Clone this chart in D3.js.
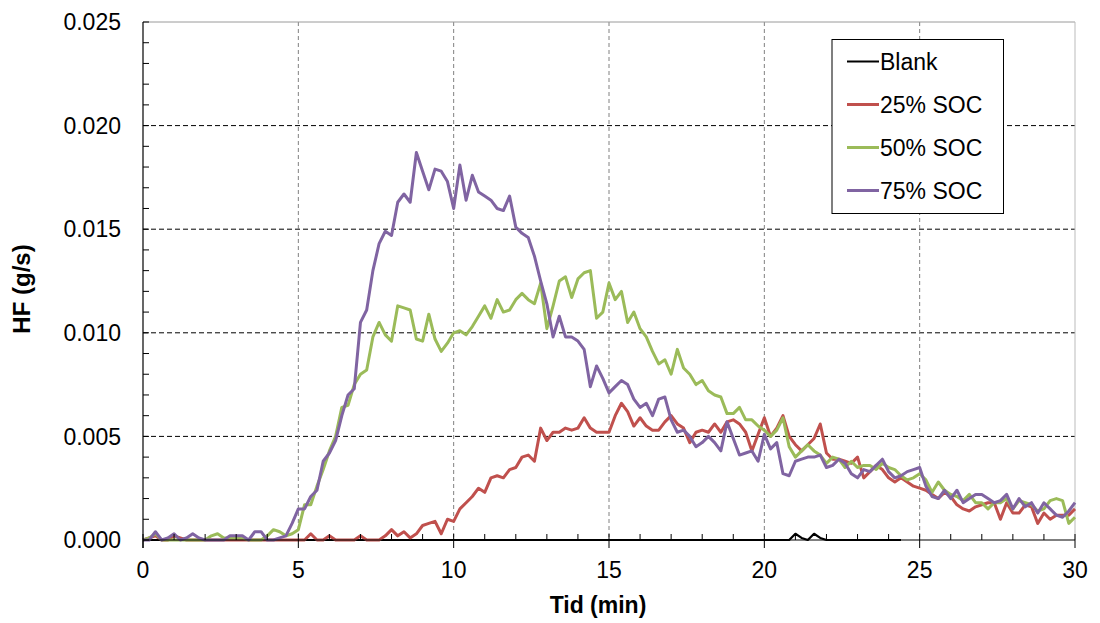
<!DOCTYPE html>
<html><head><meta charset="utf-8">
<script src="https://cdn.jsdelivr.net/npm/d3@7"></script>
<style>body{margin:0;background:#fff} svg{display:block} text{font-family:"Liberation Sans",Arial,sans-serif;fill:#000}</style>
</head><body><svg id="c" width="1100" height="623"></svg>
<script>
const seriesNames = ["Blank", "25% SOC", "50% SOC", "75% SOC"];
const seriesColors = ["#000000", "#C0504D", "#9BBB59", "#8064A2"];
const xTicks = [0, 5, 10, 15, 20, 25, 30];
const yTicks = [0, 0.005, 0.010, 0.015, 0.020, 0.025];
const xLabel = "Tid (min)";
const yLabel = "HF (g/s)";
const timeStep = 0.2; // sampling interval (min)

const blank = [
0,0,0,0,0,0,0,0,0,0, 0,0,0,0,0,0,0,0,0,0, 0,0,0,0,0,0,0,0,0,0, 0,0,0,0,0,0,0,0,0,0,
0,0,0,0,0,0,0,0,0,0, 0,0,0,0,0,0,0,0,0,0, 0,0,0,0,0,0,0,0,0,0, 0,0,0,0,0,0,0,0,0,0,
0,0,0,0,0,0,0,0,0,0, 0,0,0,0,0,0,0,0,0,0, 0,0,0,0,0,0.0003,0.0001,0,0.0003,0.0001,
0,0,0,0,0,0,0,0,0,0, 0,0,0
];
const soc25 = [
0,0.0001,0.0002,0,0,0.0002,0.0001,0,0,0,
0,0,0,0,0,0,0,0,0,0,
0,0,0,0,0,0,0,0.0003,0,0,
0.0002,0,0,0,0,0.0002,0,0,0,0.0002,
0.0005,0.0002,0.0004,0.0001,0.0003,0.0007,0.0008,0.0009,0.0003,0.0010,
0.0009,0.0015,0.0018,0.0021,0.0025,0.0023,0.0030,0.0031,0.0030,0.0034,
0.0035,0.0040,0.0041,0.0038,0.0054,0.0048,0.0052,0.0052,0.0054,0.0053,
0.0054,0.0059,0.0054,0.0052,0.0052,0.0052,0.0060,0.0066,0.0062,0.0055,
0.0059,0.0055,0.0053,0.0053,0.0057,0.0060,0.0056,0.0054,0.0047,0.0052,
0.0053,0.0052,0.0056,0.0052,0.0057,0.0058,0.0056,0.0052,0.0043,0.0051,
0.0059,0.0050,0.0054,0.0060,0.0050,0.0046,0.0043,0.0046,0.0049,0.0056,
0.0042,0.0039,0.0039,0.0038,0.0037,0.0040,0.0030,0.0033,0.0036,0.0034,
0.0030,0.0028,0.0030,0.0028,0.0026,0.0025,0.0024,0.0022,0.0020,0.0023,
0.0021,0.0017,0.0015,0.0014,0.0016,0.0017,0.0018,0.0018,0.0010,0.0018,
0.0013,0.0013,0.0017,0.0016,0.0008,0.0013,0.0010,0.0012,0.0012,0.0012,
0.0015
];
const soc50 = [
0,0.0001,0.0003,0,0,0,0,0,0,0,
0,0.0002,0.0003,0.0001,0.0001,0.0001,0.0001,0,0,0,
0.0002,0.0005,0.0004,0.0002,0.0003,0.0005,0.0017,0.0017,0.0026,0.0034,
0.0043,0.0050,0.0064,0.0065,0.0075,0.0080,0.0082,0.0098,0.0105,0.0099,
0.0096,0.0113,0.0112,0.0111,0.0097,0.0096,0.0109,0.0097,0.0091,0.0095,
0.0100,0.0101,0.0099,0.0103,0.0108,0.0113,0.0107,0.0116,0.0110,0.0111,
0.0116,0.0119,0.0116,0.0114,0.0124,0.0102,0.0113,0.0125,0.0127,0.0117,
0.0126,0.0129,0.0130,0.0107,0.0110,0.0124,0.0116,0.0120,0.0105,0.0110,
0.0102,0.0098,0.0091,0.0085,0.0087,0.0080,0.0092,0.0083,0.0080,0.0075,
0.0077,0.0072,0.0070,0.0069,0.0061,0.0061,0.0064,0.0058,0.0058,0.0055,
0.0053,0.0050,0.0053,0.0059,0.0045,0.0040,0.0043,0.0046,0.0043,0.0041,
0.0037,0.0040,0.0039,0.0035,0.0038,0.0035,0.0036,0.0036,0.0034,0.0037,
0.0035,0.0034,0.0031,0.0029,0.0030,0.0032,0.0029,0.0023,0.0028,0.0024,
0.0022,0.0021,0.0019,0.0022,0.0018,0.0018,0.0015,0.0018,0.0018,0.0020,
0.0015,0.0019,0.0018,0.0017,0.0014,0.0015,0.0019,0.0020,0.0019,0.0008,
0.0011
];
const soc75 = [
0,0,0.0004,0,0.0001,0.0003,0,0.0001,0.0003,0.0001,
0,0,0,0,0.0002,0.0002,0.0002,0,0.0004,0.0004,
0,0,0.0001,0.0002,0.0008,0.0015,0.0015,0.0021,0.0024,0.0038,
0.0042,0.0048,0.0060,0.0070,0.0073,0.0105,0.0111,0.0130,0.0143,0.0149,
0.0147,0.0163,0.0167,0.0163,0.0187,0.0178,0.0169,0.0179,0.0178,0.0173,
0.0160,0.0181,0.0164,0.0176,0.0168,0.0166,0.0164,0.0160,0.0159,0.0166,
0.0151,0.0148,0.0146,0.0137,0.0125,0.0114,0.0098,0.0108,0.0098,0.0098,
0.0096,0.0092,0.0074,0.0084,0.0078,0.0071,0.0074,0.0077,0.0075,0.0068,
0.0064,0.0066,0.0060,0.0068,0.0069,0.0058,0.0052,0.0053,0.0050,0.0045,
0.0047,0.0050,0.0047,0.0043,0.0057,0.0049,0.0041,0.0042,0.0043,0.0038,
0.0051,0.0044,0.0047,0.0032,0.0031,0.0038,0.0039,0.0040,0.0040,0.0041,
0.0035,0.0036,0.0039,0.0037,0.0032,0.0030,0.0034,0.0033,0.0036,0.0039,
0.0033,0.0030,0.0031,0.0033,0.0034,0.0035,0.0026,0.0021,0.0020,0.0024,
0.0020,0.0024,0.0018,0.0020,0.0022,0.0022,0.0020,0.0018,0.0019,0.0022,
0.0015,0.0020,0.0016,0.0018,0.0013,0.0018,0.0015,0.0012,0.0011,0.0014,
0.0018
];
const seriesValues = [blank, soc25, soc50, soc75];

const svg = d3.select("#c");
const m = {left: 143, right: 1075, top: 22, bottom: 540};
const x = d3.scaleLinear().domain([0, 30]).range([m.left, m.right]);
const y = d3.scaleLinear().domain([0, 0.025]).range([m.bottom, m.top]);

// gridlines
const g = svg.append("g");
g.selectAll(".hg").data(yTicks.filter(d => d > 0 && d < 0.025)).join("line")
  .attr("x1", m.left).attr("x2", m.right).attr("y1", d => y(d)).attr("y2", d => y(d))
  .attr("stroke", "#000").attr("stroke-width", 1).attr("stroke-dasharray", "5,3");
g.selectAll(".vg").data(xTicks.filter(d => d > 0 && d < 30)).join("line")
  .attr("y1", m.top).attr("y2", m.bottom).attr("x1", d => x(d)).attr("x2", d => x(d))
  .attr("stroke", "#808080").attr("stroke-width", 1).attr("stroke-dasharray", "4,3");
// top and right border
svg.append("line").attr("x1", m.left).attr("x2", m.right).attr("y1", m.top).attr("y2", m.top).attr("stroke", "#9a9a9a");
svg.append("line").attr("x1", m.right).attr("x2", m.right).attr("y1", m.top).attr("y2", m.bottom).attr("stroke", "#bbbbbb");

// series lines
const line = d3.line().x((d, i) => x(i * timeStep)).y(d => y(d));
seriesValues.forEach((vals, k) => {
  svg.append("path").datum(vals).attr("d", line).attr("fill", "none")
    .attr("stroke", seriesColors[k]).attr("stroke-width", k === 0 ? 2.2 : 3)
    .attr("stroke-linejoin", "round");
});

// y axis
const yAxis = svg.append("g");
yAxis.append("line").attr("x1", m.left).attr("x2", m.left).attr("y1", m.top).attr("y2", m.bottom + 8).attr("stroke", "#000").attr("stroke-width", 1.2);
const yMinor = d3.range(0, 26).map(i => i * 0.001);
yAxis.selectAll(".ym").data(yMinor).join("line")
  .attr("x1", m.left).attr("x2", m.left + 6).attr("y1", d => y(d)).attr("y2", d => y(d))
  .attr("stroke", "#000");
yAxis.selectAll(".yl").data(yTicks).join("text")
  .attr("x", 121).attr("y", d => y(d)).attr("dy", "0.36em").attr("text-anchor", "end")
  .style("font-size", "23px").text(d => d3.format(".3f")(d));

// x axis
const xAxis = svg.append("g");
xAxis.append("line").attr("x1", m.left).attr("x2", m.right).attr("y1", m.bottom).attr("y2", m.bottom).attr("stroke", "#000").attr("stroke-width", 1.2);
const xMinor = d3.range(0, 31);
xAxis.selectAll(".xm").data(xMinor).join("line")
  .attr("x1", d => x(d)).attr("x2", d => x(d)).attr("y1", m.bottom - 6)
  .attr("y2", d => xTicks.includes(d) ? m.bottom + 8 : m.bottom)
  .attr("stroke", "#000");
xAxis.selectAll(".xl").data(xTicks).join("text")
  .attr("x", d => x(d)).attr("y", 578).attr("text-anchor", "middle")
  .style("font-size", "23px").text(d => d);

// axis titles
svg.append("text").attr("x", 598).attr("y", 613).attr("text-anchor", "middle")
  .style("font-size", "23px").style("font-weight", "bold").text(xLabel);
svg.append("text").attr("transform", "translate(30,289) rotate(-90)").attr("text-anchor", "middle")
  .style("font-size", "24px").style("font-weight", "bold").text(yLabel);

// legend
const lg = svg.append("g");
lg.append("rect").attr("x", 832).attr("y", 39.5).attr("width", 171.5).attr("height", 174)
  .attr("fill", "#fff").attr("stroke", "#000").attr("stroke-width", 1);
const rowY = [61.5, 104.5, 147.5, 190.5];
seriesNames.forEach((n, k) => {
  lg.append("line").attr("x1", 847).attr("x2", 879).attr("y1", rowY[k]).attr("y2", rowY[k])
    .attr("stroke", seriesColors[k]).attr("stroke-width", k === 0 ? 2 : 3);
  lg.append("text").attr("x", 880).attr("y", rowY[k]).attr("dy", "0.36em")
    .style("font-size", "23px").text(n);
});
</script></body></html>
